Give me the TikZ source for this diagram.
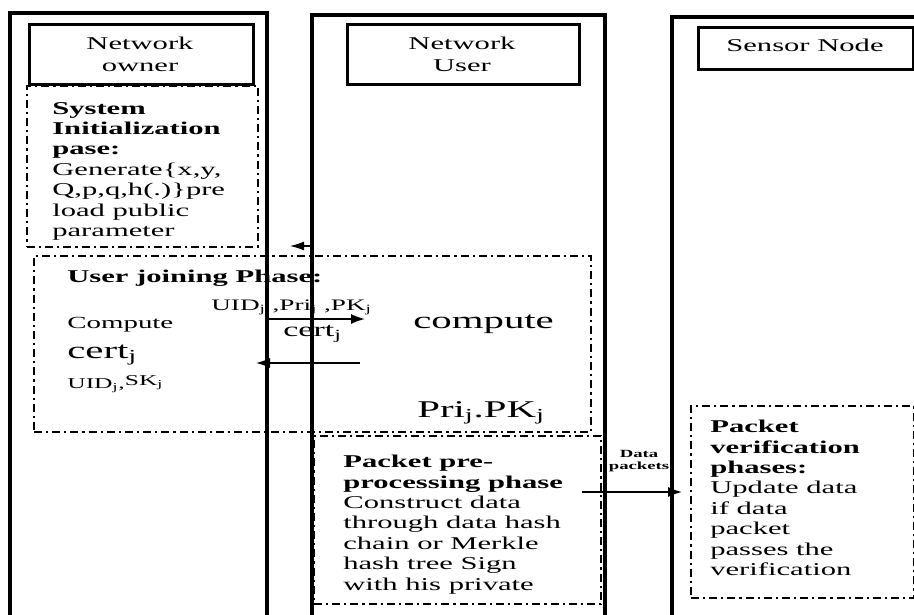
\documentclass[tikz,border=0pt]{standalone}
\usepackage{fontspec}
\setmainfont{Liberation Serif}
\usetikzlibrary{arrows.meta}
\begin{document}
\begin{tikzpicture}[x=1pt,y=-1pt,
  lane/.style={line width=3.4pt},
  headbox/.style={draw,line width=3.2pt,anchor=north west,inner sep=0pt},
  phasebox/.style={draw,line width=2pt,dash pattern=on 8pt off 4pt on 2.2pt off 4pt,anchor=north west,inner sep=0pt},
  msg/.style={line width=1.6pt,-{Latex[length=14pt,width=10pt]}},
  wide/.style={xscale=1.7,inner sep=0pt},
  headtxt/.style={wide,align=center,font=\fontsize{18}{22}\selectfont},
  body/.style={wide,anchor=north west,align=left,font=\fontsize{18}{20.4}\selectfont},
  big/.style={wide,anchor=base west,font=\fontsize{24}{26}\selectfont},
  ]
\useasboundingbox (0,0) rectangle (914,615);

% dash-dotted phase frames
\node[phasebox,minimum width=231pt,minimum height=161pt] (initbox) at (26,85) {};
\node[phasebox,minimum width=557pt,minimum height=176pt] (joinbox) at (33,255) {};
\node[phasebox,minimum width=287pt,minimum height=168pt] (prebox) at (313,435) {};
\node[phasebox,minimum width=223pt,minimum height=192pt] (verbox) at (690,405) {};

% swimlanes
\draw[lane] (10,615) -- (10,13) -- (267,13) -- (267,615);
\draw[lane] (312,615) -- (312,15) -- (605,15) -- (605,615);
\draw[lane] (672,615) -- (672,17) -- (930,17);

% lane headers
\node[headbox,minimum width=224pt,minimum height=60pt] (ownerhd) at (28,23) {};
\node[headbox,minimum width=232pt,minimum height=60pt] (userhd) at (346,23) {};
\node[headbox,minimum width=215pt,minimum height=42pt] (sensorhd) at (697,26) {};
\node[headtxt] (ownerlbl) at (140,54) {Network\\owner};
\node[headtxt] (userlbl) at (462,54) {Network\\User};
\node[headtxt] (sensorlbl) at (805,45) {Sensor Node};

% system initialization
\node[body] (inittxt) at (52,102) {\textbf{System}\\\textbf{Initialization}\\\textbf{pase:}\\Generate\{x,y,\\Q,p,q,h(.)\}pre\\load public\\parameter};

% user joining
\node[wide,anchor=base west,font=\fontsize{18}{20}\selectfont\bfseries] (jointitle) at (67,282) {User joining Phase:};
\node[wide,anchor=base west,font=\fontsize{17}{20}\selectfont] (ocomp) at (67,328) {Compute};
\node[big] (ocert) at (67,358) {cert\textsubscript{j}};
\node[wide,anchor=base west,font=\fontsize{15}{18}\selectfont] (ouid) at (67,388) {UID\textsubscript{j},\raisebox{3pt}{SK\textsubscript{j}}};
\node[wide,anchor=base west,font=\fontsize{16}{18}\selectfont] (reqlbl) at (211,310) {UID\textsubscript{j} ,Pri\textsubscript{j} ,PK\textsubscript{j}};
\node[wide,anchor=base west,font=\fontsize{20}{22}\selectfont] (certlbl) at (283,336) {cert\textsubscript{j}};
\node[big] (ucomp) at (413,328) {compute};
\node[big] (ukeys) at (417,417) {Pri\textsubscript{j}.PK\textsubscript{j}};

\coordinate (reqA) at (267,319);
\coordinate (reqB) at (365,319);
\coordinate (repA) at (360,363);
\coordinate (repB) at (256,363);
\draw[msg] (reqA) -- (reqB);
\draw[msg] (repA) -- (repB);

\coordinate (tickA) at (311,246);
\coordinate (tickB) at (290,246);
\draw[line width=1.2pt,-{Latex[length=14pt,width=9pt]}] (tickA) -- (tickB);

% packet pre-processing
\node[body] (pretxt) at (343,455) {\textbf{Packet pre-}\\\textbf{processing phase}\\Construct data\\through data hash\\chain or Merkle\\hash tree Sign\\with his private};

% packet verification
\node[body] (vertxt) at (710,420) {\textbf{Packet}\\\textbf{verification}\\\textbf{phases:}\\Update data\\if data\\packet\\passes the\\verification};

% data packets
\coordinate (dataA) at (582,492);
\coordinate (dataB) at (682,492);
\draw[msg] (dataA) -- (dataB);
\node[wide,align=center,font=\fontsize{11}{12}\selectfont\bfseries] (datalbl) at (639,461) {Data\\packets};
\end{tikzpicture}
\end{document}
